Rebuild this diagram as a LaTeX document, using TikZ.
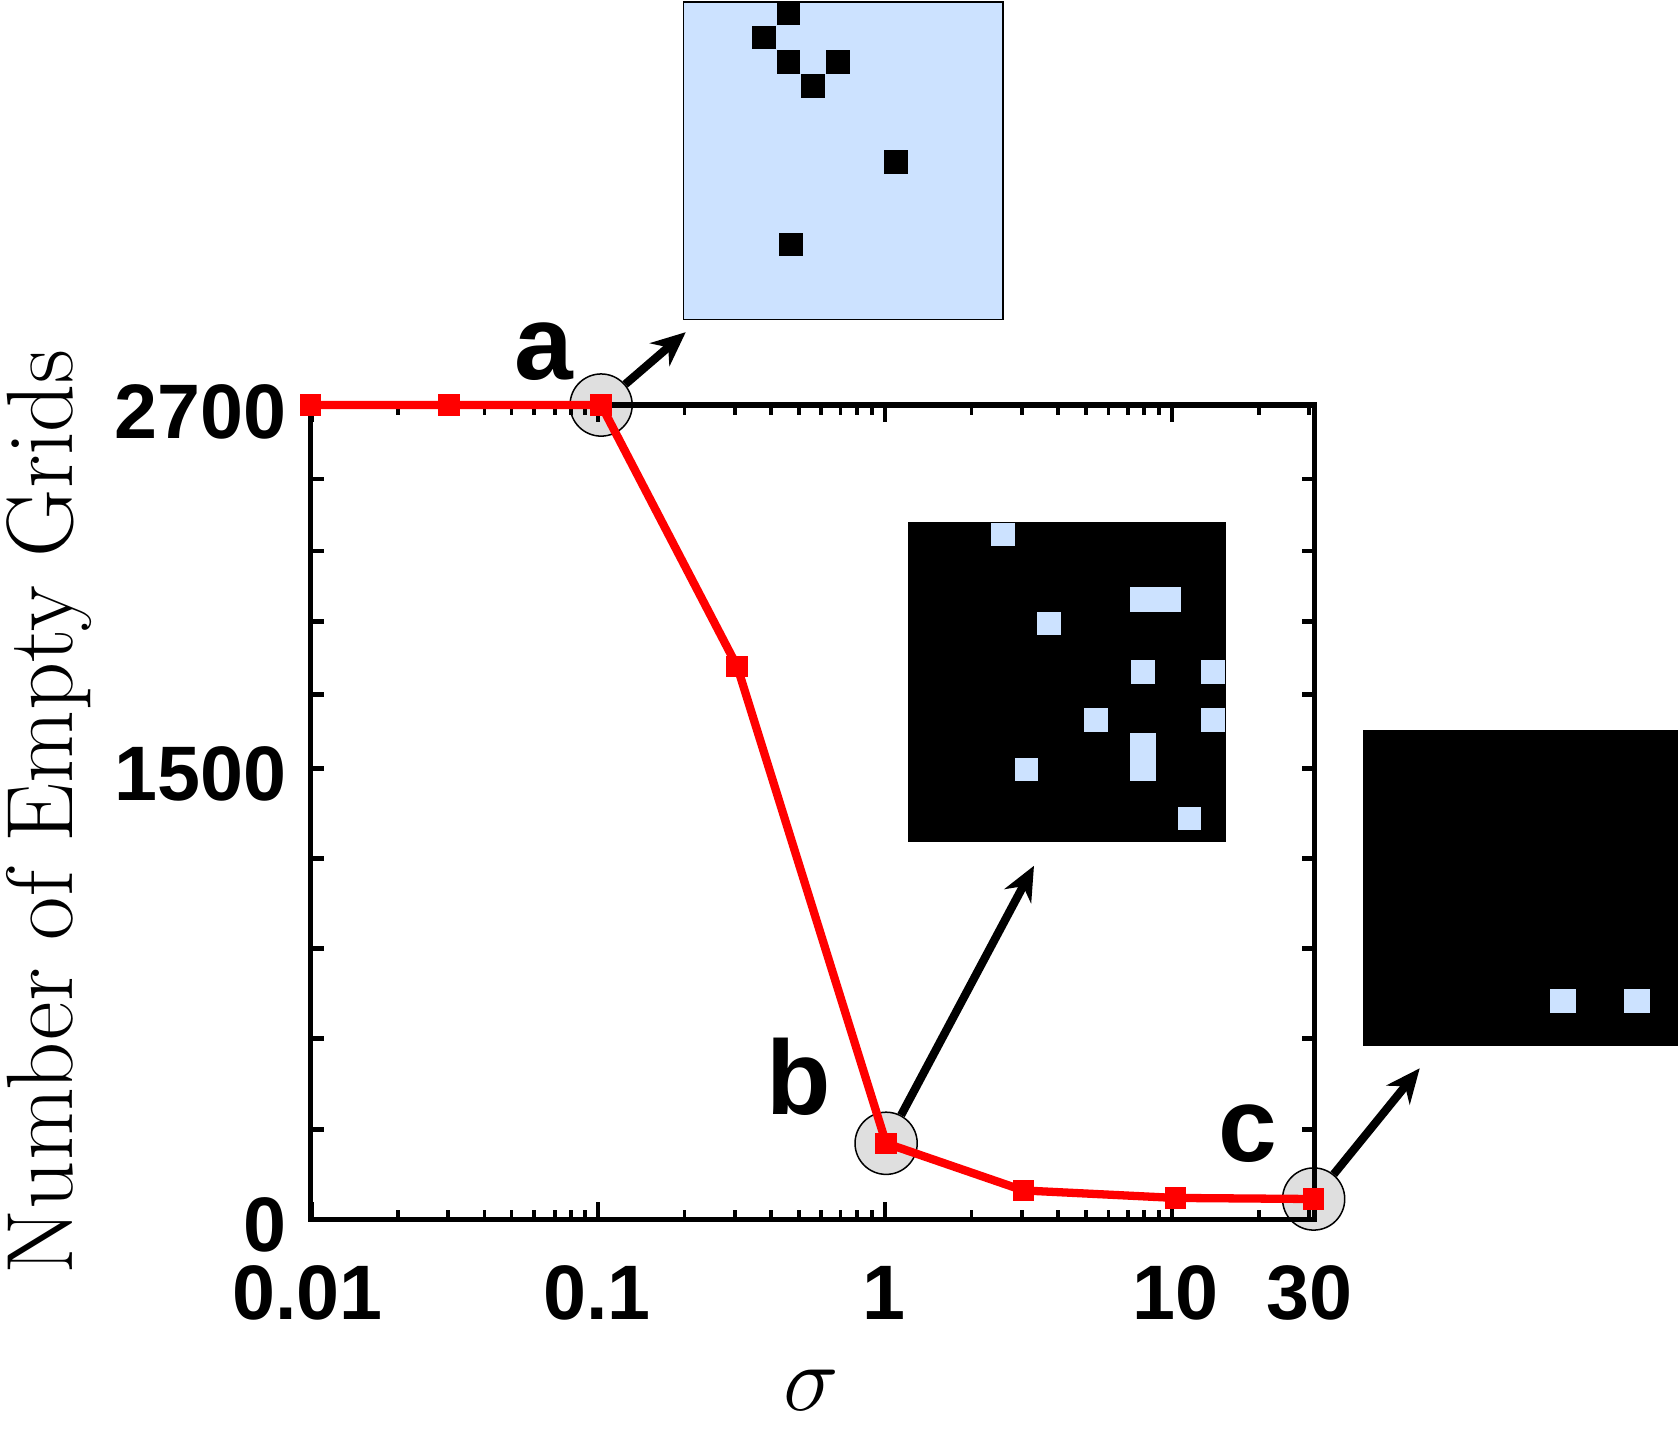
\documentclass[tikz,border=0pt]{standalone}
\usepackage{fontspec}
\newfontfamily\labfont{Liberation Sans}
\usetikzlibrary{arrows.meta}
\definecolor{cellblue}{HTML}{CCE2FF}
\tikzset{
  ticklab/.style={font=\labfont\bfseries\fontsize{20.5}{24}\selectfont},
  letterlab/.style={font=\labfont\bfseries\fontsize{28}{32}\selectfont},
  marker/.style={fill=red, minimum size=0.2cm, inner sep=0pt},
  pick/.style={draw=black, fill=gray!25, circle, minimum size=0.58cm, inner sep=0pt},
  pointer/.style={-{Stealth[length=0.32cm,width=0.28cm]}, line width=2.2pt},
}
\begin{document}
\begin{tikzpicture}[x=0.01cm, y=-0.01cm]

    \useasboundingbox (0,0) rectangle (1567,1350);

    % x position of sigma
    \def\sx#1{290+268*(log10(#1)+2)}

    % marked points
    \node[pick] (pa) at (561,378) {};
    \node[pick] (pb) at (827,1067) {};
    \node[pick] (pc) at (1226,1119) {};

    % axes box
    \draw[line width=1.4pt] (290,378) rectangle (1227,1138);

    % y ticks
    \foreach \ty in {1054,969,885,801,717,648,580,514,447} {
        \draw[line width=1.2pt] (290,\ty) -- (302,\ty);
        \draw[line width=1.2pt] (1227,\ty) -- (1215,\ty);
    }

    % x ticks
    \foreach \d in {0.01,0.1,1,10} {
        \foreach \m in {1,...,9} {
            \pgfmathsetmacro\tx{\sx{\d*\m}}
            \pgfmathparse{\tx<1229 ? 1 : 0}
            \ifnum\pgfmathresult=1
            \ifnum\m=1
                \draw[line width=1.2pt] (\tx,1138) -- (\tx,1122);
                \draw[line width=1.2pt] (\tx,378) -- (\tx,394);
            \else
                \draw[line width=1pt] (\tx,1138) -- (\tx,1129);
                \draw[line width=1pt] (\tx,378) -- (\tx,387);
            \fi
            \fi
        }
    }

    % curve
    \draw[red, line width=2.2pt] (290,378) -- (419,378) -- (561,378) -- (688,622)
        -- (827,1067) -- (955,1111) -- (1097,1118) -- (1226,1119);
    \foreach \px/\py in {290/378,419/378,561/378,688/622,827/1067,955/1111,1097/1118,1226/1119}
        \node[marker] at (\px,\py) {};

    % tick labels
    \node[ticklab, anchor=east] (l2700) at (280,384) {2700};
    \node[ticklab, anchor=east] (l1500) at (280,722) {1500};
    \node[ticklab, anchor=east] (l0) at (280,1143) {0};
    \node[ticklab] (x001) at (287,1207) {0.01};
    \node[ticklab] (x01) at (557,1207) {0.1};
    \node[ticklab] (x1) at (825,1207) {1};
    \node[ticklab] (x10) at (1097,1207) {10};
    \node[ticklab] (x30) at (1222,1207) {30};

    % axis titles
    \node[rotate=90, inner sep=0pt, font=\fontsize{25}{30}\selectfont] (ytitle) at (46,758) {Number of Empty Grids};
    \node[font=\fontsize{25}{30}\selectfont] (xtitle) at (757,1298) {$\sigma$};

    % letters
    \node[letterlab] (la) at (508,328) {a};
    \node[letterlab] (lb) at (745,1005) {b};
    \node[letterlab] (lc) at (1165,1058) {c};

    % snapshots
    \draw[fill=cellblue] (638,2) rectangle (936,298);
    \foreach \cx/\cy in {736/12,713/35,736/58,782/58,759/80,836/151,738/228}
        \fill (\cx-11,\cy-11) rectangle (\cx+11,\cy+11);
    \coordinate (sa) at (640,310);

    \fill (847,487) rectangle (1144,786);
    \foreach \cx/\cy in {936/499,979/582,1067/627,1132/627,1023/672,1132/672,958/718,1110/764}
        \fill[cellblue] (\cx-11,\cy-11) rectangle (\cx+11,\cy+11);
    \fill[cellblue] (1055,548) rectangle (1102,571);
    \fill[cellblue] (1055,684) rectangle (1079,729);
    \coordinate (sb) at (965,808);

    \fill (1272,681) rectangle (1566,976);
    \foreach \cx/\cy in {1459/934,1528/934}
        \fill[cellblue] (\cx-12,\cy-11) rectangle (\cx+12,\cy+11);
    \coordinate (sc) at (1325,997);

    % pointers
    \draw[pointer] (pa) -- (sa);
    \draw[pointer] (pb) -- (sb);
    \draw[pointer] (pc) -- (sc);

\end{tikzpicture}
\end{document}
